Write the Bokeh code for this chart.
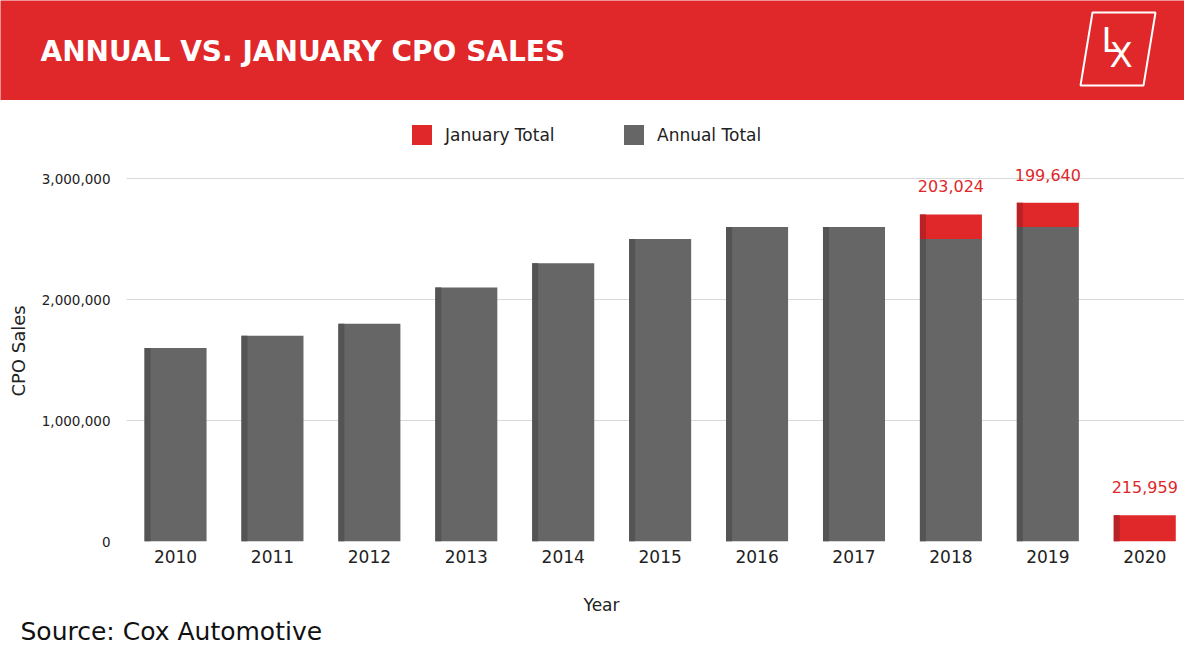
from bokeh.plotting import figure
from bokeh.models import (ColumnDataSource, Range1d, FixedTicker, NumeralTickFormatter,
                          Legend, LegendItem)
from bokeh.layouts import column
from bokeh.transform import stack, dodge
from bokeh.core.properties import value
from bokeh.embed import file_html
from bokeh.resources import INLINE

# data
years = ["2010", "2011", "2012", "2013", "2014", "2015", "2016", "2017", "2018", "2019", "2020"]
annual = [1600000, 1700000, 1800000, 2100000, 2300000, 2500000, 2600000, 2600000, 2500000, 2600000, 0]
january = [0, 0, 0, 0, 0, 0, 0, 0, 203024, 199640, 215959]
y_ticks = [0, 1000000, 2000000, 3000000]

RED = "#e0282a"
RED_DARK = "#b82226"
GRAY = "#666666"
GRAY_DARK = "#545454"
TXT = "#222222"
FONT = "DejaVu Sans"
W = 1184


def blank(h, y0, y1, **kw):
    f = figure(width=W, height=h, x_range=Range1d(0, W), y_range=Range1d(y1, y0),
               x_axis_type=None, y_axis_type=None, toolbar_location=None,
               output_backend="svg", min_border=0, outline_line_color=None,
               frame_align=False, **kw)
    f.grid.visible = False
    return f


# ---- header band
head = blank(100, 0, 100, background_fill_color=RED, border_fill_color=RED)
head.text(x=[40], y=[51], text=["ANNUAL VS. JANUARY CPO SALES"], text_color="white",
          text_font=value(FONT), text_font_style="bold", text_font_size="28px",
          text_baseline="middle")
head.patch(x=[1092, 1155, 1143, 1080], y=[12, 12, 85, 85], fill_color=None,
           line_color="white", line_width=2)
head.text(x=[1101], y=[39], text=["L"], text_color="white", text_font=value(FONT),
          text_font_size="34px", text_baseline="middle")
head.text(x=[1109], y=[54], text=["X"], text_color="white", text_font=value(FONT),
          text_font_size="34px", text_baseline="middle")

# ---- legend strip (key renderers hold one point far outside the view)
leg = blank(60, 100, 160)
r_jan_key = leg.vbar(x=[-1000], top=[100], width=1, fill_color=RED, line_color=None)
r_ann_key = leg.vbar(x=[-1000], top=[100], width=1, fill_color=GRAY, line_color=None)
legend = Legend(items=[LegendItem(label="January Total", renderers=[r_jan_key]),
                       LegendItem(label="Annual Total", renderers=[r_ann_key])],
                location=(409, 13), orientation="horizontal", padding=0, margin=0,
                spacing=0, glyph_width=25, glyph_height=25, label_height=25,
                label_width=176, label_standoff=11, border_line_color=None,
                background_fill_alpha=0, label_text_font=FONT,
                label_text_font_size="17px", label_text_color=TXT)
leg.add_layout(legend)

# ---- main chart
xs = list(range(len(years)))
src = ColumnDataSource(data=dict(x=xs, year=years, annual=annual, january=january))

p = figure(width=W, height=430, x_range=Range1d(-0.506, 10.41), y_range=Range1d(0, 3149000),
           toolbar_location=None, output_backend="svg",
           min_border_left=126, min_border_right=0, min_border_top=0, min_border_bottom=49,
           outline_line_color=None, frame_align=False)

bw = 0.64
sw = 0.062
p.vbar(x="x", bottom=0, top=stack("annual"), width=bw, fill_color=GRAY,
       line_color=None, source=src)
p.vbar(x="x", bottom=stack("annual"), top=stack("annual", "january"), width=bw,
       fill_color=RED, line_color=None, source=src)
# darker left edge of each bar
p.vbar(x=dodge("x", -bw / 2 + sw / 2), bottom=0, top=stack("annual"),
       width=sw, fill_color=GRAY_DARK, line_color=None, source=src)
p.vbar(x=dodge("x", -bw / 2 + sw / 2), bottom=stack("annual"),
       top=stack("annual", "january"), width=sw, fill_color=RED_DARK, line_color=None,
       source=src)

# value labels on the january segments
lab_x = [i for i, j in zip(xs, january) if j > 0]
lab_tops = [a + j for a, j in zip(annual, january) if j > 0]
lab_text = [f"{j:,}" for j in january if j > 0]
p.text(x=lab_x, y=lab_tops, text=lab_text, text_align="center", text_baseline="middle",
       y_offset=-28, text_color=RED, text_font=value(FONT), text_font_size="16px")

p.xgrid.visible = False
p.ygrid.ticker = FixedTicker(ticks=y_ticks)
p.ygrid.grid_line_color = "#d9d9d9"

p.yaxis.ticker = FixedTicker(ticks=y_ticks)
p.yaxis.formatter = NumeralTickFormatter(format="0,0")
p.yaxis.axis_label = "CPO Sales"
p.yaxis.axis_label_text_font = FONT
p.yaxis.axis_label_text_font_style = "normal"
p.yaxis.axis_label_text_font_size = "18px"
p.yaxis.axis_label_text_color = TXT
p.yaxis.axis_label_standoff = 10
p.yaxis.major_label_text_font = FONT
p.yaxis.major_label_text_font_size = "13.5px"
p.yaxis.major_label_text_color = TXT
p.yaxis.major_label_standoff = 16

p.xaxis.ticker = FixedTicker(ticks=xs)
p.xaxis.major_label_overrides = {i: y for i, y in zip(xs, years)}
p.xaxis.major_label_text_font = FONT
p.xaxis.major_label_text_font_size = "17px"
p.xaxis.major_label_text_color = TXT
p.xaxis.major_label_standoff = 8

for ax in (p.xaxis, p.yaxis):
    ax.axis_line_color = None
    ax.major_tick_line_color = None
    ax.minor_tick_line_color = None
    ax.major_tick_out = 0
    ax.major_tick_in = 0
    ax.minor_tick_out = 0

# ---- footer: axis title and source
foot = blank(56, 590, 646)
foot.text(x=[601], y=[604], text=["Year"], text_align="center", text_baseline="middle",
          text_color=TXT, text_font=value(FONT), text_font_size="17px")
foot.text(x=[20], y=[631], text=["Source:  Cox Automotive"], text_baseline="middle",
          text_color="#111111", text_font=value(FONT), text_font_size="25px")

layout = column(head, leg, p, foot, spacing=0)
open("out.html", "w").write(file_html(layout, INLINE))
